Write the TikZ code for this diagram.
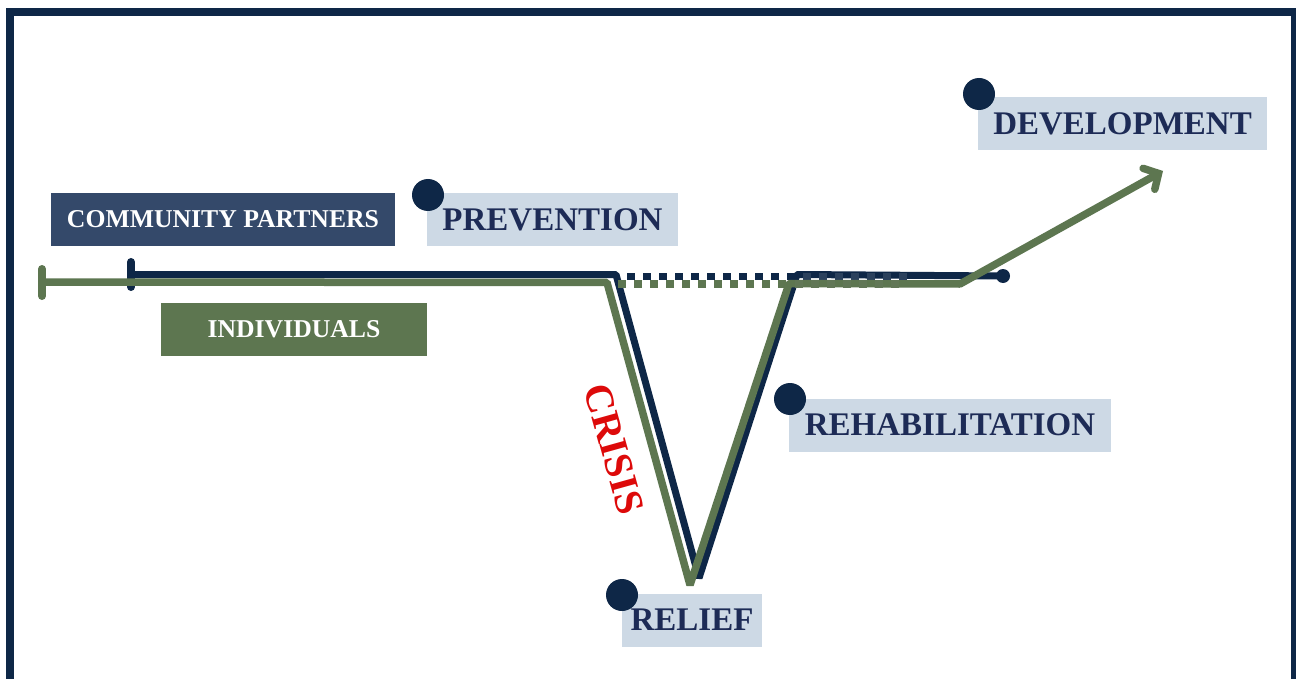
\documentclass[tikz,border=0pt]{standalone}
\usepackage{fontspec}
\setmainfont{Liberation Serif}
\usetikzlibrary{arrows.meta}
\definecolor{navy}{HTML}{0E2747}
\definecolor{boxnavy}{HTML}{34496A}
\definecolor{olive}{HTML}{5D7650}
\definecolor{pale}{HTML}{CDD9E5}
\definecolor{labeltext}{HTML}{1D2B56}
\definecolor{crisisred}{HTML}{DD0A0A}
\begin{document}
\begin{tikzpicture}[x=1pt,y=-1pt,
  stagebox/.style={fill=pale, text=labeltext, font=\bfseries\fontsize{33}{33}\selectfont, inner sep=0pt, minimum height=53pt},
  groupbox/.style={text=white, font=\bfseries\fontsize{25.7}{26}\selectfont, inner sep=0pt, minimum height=53pt},
  stagedot/.style={circle, fill=navy, inner sep=0pt, minimum size=32pt},
  navyline/.style={draw=navy, line width=7pt, line join=bevel},
  oliveline/.style={draw=olive, line width=7.5pt, line join=bevel},
  tickmark/.style={line width=8pt, line cap=round},
  dashline/.style={line width=7.5pt, dash pattern=on 8pt off 8pt}]
\useasboundingbox (0,0) rectangle (1296,679);
\fill[white] (0,0) rectangle (1296,679);
% frame
\draw[navy, line width=8pt] (10,700) -- (10,12) -- (1295,12) -- (1295,700);

% group labels
\node[groupbox, fill=boxnavy, minimum width=344pt] (cp) at (223,219.5) {COMMUNITY PARTNERS};
\node[groupbox, fill=olive, minimum width=266pt] (ind) at (294,329.5) {INDIVIDUALS};

% stage labels
\node[stagebox, minimum width=251pt] (prev) at (552.5,219.5) {PREVENTION};
\node[stagebox, minimum width=289pt] (dev) at (1122.5,123.5) {DEVELOPMENT};
\node[stagebox, minimum width=322pt] (rehab) at (950,425) {REHABILITATION};
\node[stagebox, minimum width=140pt] (relief) at (692,620) {RELIEF};

% navy (community partners) line
\coordinate (nt1) at (131,262);
\coordinate (nt2) at (131,287);
\coordinate (ns) at (131,274.5);
\coordinate (nl) at (616,274.5);
\coordinate (nb) at (699,578);
\coordinate (nr) at (797,274.5);
\coordinate (ne) at (1003,276);
\draw[navy, tickmark] (nt1) -- (nt2);
\draw[navyline] (ns) -- (nl) -- (nb) -- (nr) -- (ne);
\node[circle, fill=navy, inner sep=0pt, minimum size=14pt] (nend) at (ne) {};
\coordinate (nd1) at (619,276.5);
\coordinate (nd2) at (795,276.5);
\coordinate (nd3) at (912,276.5);
\draw[navy, dashline, dash phase=8pt] (nd1) -- (nd2);
\draw[navy!88!white, dashline, dash phase=8pt] (nd2) -- (nd3);

% olive (individuals) line
\coordinate (gt1) at (42,269);
\coordinate (gt2) at (42,296);
\coordinate (gs) at (42,282);
\coordinate (gl) at (607,282.5);
\coordinate (gb) at (690,585);
\coordinate (gr) at (789,283.5);
\coordinate (gk) at (960,284);
\coordinate (gtip) at (1163,171);
\draw[olive, tickmark] (gt1) -- (gt2);
\draw[oliveline] (gs) -- (gl) -- (gb) -- (gr) -- (gk);
\draw[olive, line width=7.5pt, line cap=round, line join=round, -{Straight Barb[length=11pt,width=24pt,line cap=round]}] (gk) -- (gtip);
\coordinate (gd1) at (610,284);
\coordinate (gd2) at (787,284);
\coordinate (gd3) at (905,284);
\draw[olive, dashline, dash phase=8pt] (gd1) -- (gd2);
\draw[olive!88!gray, dashline, dash phase=8pt] (gd2) -- (gd3);

% stage dots
\node[stagedot] (dprev) at (428,195) {};
\node[stagedot] (ddev) at (979,94) {};
\node[stagedot] (drehab) at (790,399) {};
\node[stagedot] (drelief) at (622,595) {};

% crisis label
\node[text=crisisred, font=\bfseries\fontsize{40}{40}\selectfont, rotate=-74.4, inner sep=0pt] (crisis) at (614,449) {CRISIS};
\end{tikzpicture}
\end{document}
